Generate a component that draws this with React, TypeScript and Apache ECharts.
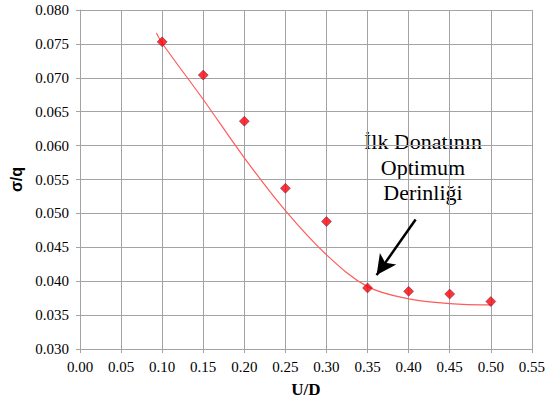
import React, { useEffect, useRef } from "react";
import * as echarts from "echarts";

// Measured points (U/D vs σ/q)
const ratioUD = [0.1, 0.15, 0.2, 0.25, 0.3, 0.35, 0.4, 0.45, 0.5];
const sigmaQ = [0.0753, 0.0704, 0.0636, 0.0537, 0.0488, 0.0390, 0.0385, 0.0381, 0.0370];

// Trend curve through the measurements
const trendX = [0.093, 0.1, 0.15, 0.2, 0.25, 0.3, 0.35, 0.4, 0.45, 0.502];
const trendY = [0.0766, 0.0751, 0.0668, 0.0582, 0.0504, 0.0439, 0.0392, 0.0374, 0.0367, 0.0365];

const xTicks = { min: 0, max: 0.55, step: 0.05 };
const yTicks = { min: 0.03, max: 0.08, step: 0.005 };

const noteLines = ["İlk Donatının", "Optimum", "Derinliği"];

const SERIF = "Liberation Serif";
const GRID = "#a3a3a3";

const serifTick = { fontFamily: SERIF, fontSize: 15, color: "#000" };

export default function App() {
  const ref = useRef<HTMLDivElement>(null);

  useEffect(() => {
    if (!ref.current) return;
    const chart = echarts.init(ref.current, null, { renderer: "svg" });

    const points = ratioUD.map((x, i) => [x, sigmaQ[i]]);
    const trend = trendX.map((x, i) => [x, trendY[i]]);

    chart.setOption({
      animation: false,
      backgroundColor: "#ffffff",
      textStyle: { fontFamily: SERIF },
      grid: { left: 71, right: 13, top: 10, bottom: 53, containLabel: false },
      xAxis: {
        type: "value",
        min: xTicks.min,
        max: xTicks.max,
        interval: xTicks.step,
        name: "U/D",
        nameLocation: "middle",
        nameGap: 32,
        nameTextStyle: { fontFamily: SERIF, fontSize: 17, fontWeight: "bold", color: "#000" },
        axisLine: { show: true, lineStyle: { color: GRID, width: 1 } },
        axisTick: { show: true, length: 4, lineStyle: { color: GRID } },
        splitLine: { show: true, lineStyle: { color: GRID, width: 1 } },
        axisLabel: {
          margin: 10,
          ...serifTick,
          formatter: (v: number) => v.toFixed(2),
        },
      },
      yAxis: {
        type: "value",
        min: yTicks.min,
        max: yTicks.max,
        interval: yTicks.step,
        name: "σ/q",
        nameLocation: "middle",
        nameGap: 56,
        nameTextStyle: { fontFamily: "Liberation Sans", fontSize: 16, fontWeight: "bold", color: "#000" },
        axisLine: { show: true, lineStyle: { color: GRID, width: 1 } },
        axisTick: { show: true, length: 4, lineStyle: { color: GRID } },
        splitLine: { show: true, lineStyle: { color: GRID, width: 1 } },
        axisLabel: {
          margin: 11,
          ...serifTick,
          formatter: (v: number) => v.toFixed(3),
        },
      },
      series: [
        {
          type: "line",
          data: trend,
          smooth: 0.35,
          showSymbol: false,
          lineStyle: { color: "#ff5b5b", width: 1.2 },
          z: 2,
          markLine: {
            silent: true,
            symbol: ["none", "arrow"],
            symbolSize: [15, 20],
            label: { show: false },
            lineStyle: { color: "#000", width: 2.5, type: "solid" },
            data: [
              [
                { coord: [0.4085, 0.0491] },
                { coord: [0.361, 0.0409] },
              ],
            ],
          },
        },
        {
          type: "scatter",
          data: points,
          symbol: "diamond",
          symbolSize: 10,
          itemStyle: { color: "#ff0000", borderColor: "#4a2a6a", borderWidth: 0.6 },
          z: 3,
        },
      ],
      graphic: [
        {
          type: "text",
          x: 423,
          y: 129,
          style: {
            text: noteLines.join("\n"),
            align: "center",
            verticalAlign: "top",
            fontFamily: SERIF,
            fontSize: 22,
            lineHeight: 25.5,
            fill: "#000",
          },
        },
      ],
    });

    return () => chart.dispose();
  }, []);

  return (
    <div
      ref={ref}
      style={{ position: "fixed", left: 0, top: 0, width: 548, height: 403, background: "#fff" }}
    />
  );
}
